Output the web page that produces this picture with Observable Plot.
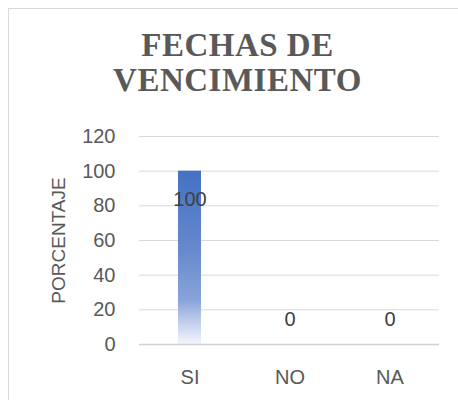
<!DOCTYPE html>
<html>
<head>
<meta charset="utf-8">
<script src="https://cdn.jsdelivr.net/npm/d3@7"></script>
<script src="https://cdn.jsdelivr.net/npm/@observablehq/plot@0.6"></script>
<style>
  html, body { margin: 0; padding: 0; background: #fff; }
  #wrap { position: relative; width: 458px; height: 400px; overflow: hidden; }
  #frame { position: absolute; left: 8px; top: 8px; width: 470px; height: 420px;
           border-left: 1px solid #d9d9d9; border-top: 1px solid #d9d9d9; }
  #title { position: absolute; left: 15px; top: 28px; width: 445px; text-align: center;
           font-family: "Liberation Serif", "Times New Roman", serif; font-weight: bold;
           font-size: 33px; line-height: 35px; letter-spacing: 0.5px; color: #595959; }
  #chart { position: absolute; left: 0; top: 115px; }
</style>
</head>
<body>
<div id="wrap">
  <div id="frame"></div>
  <div id="title">FECHAS DE<br>VENCIMIENTO</div>
  <div id="chart"></div>
</div>
<script>
const categories = ["SI", "NO", "NA"];
const values = [100, 0, 0];
const yTicks = [0, 20, 40, 60, 80, 100, 120];
const yLabel = "PORCENTAJE";
const titleText = "FECHAS DE VENCIMIENTO";

const data = categories.map((c, i) => ({cat: c, v: values[i]}));
const font = "'Liberation Sans', Arial, sans-serif";

const chart = Plot.plot({
  width: 458,
  height: 285,
  marginTop: 21,
  marginBottom: 56,
  marginLeft: 139,
  marginRight: 19,
  style: {fontFamily: font, fontSize: "20px", color: "#595959", background: "transparent"},
  x: {domain: categories, paddingInner: 0.77, paddingOuter: 0.385, label: null},
  y: {domain: [0, 120], ticks: yTicks, label: null},
  marks: [
    Plot.gridY(yTicks.filter(t => t > 0), {stroke: "#d9d9d9", strokeOpacity: 1, strokeWidth: 1}),
    Plot.barY(data, {x: "cat", y: "v", fill: "url(#barGrad)"}),
    Plot.ruleY([0], {stroke: "#d0d0d0", strokeWidth: 1.5}),
    Plot.axisY({ticks: yTicks, tickSize: 0, tickPadding: 24, fontSize: 20, fill: "#595959",
      label: yLabel, labelAnchor: "center", labelArrow: "none", labelOffset: 88}),
    Plot.axisX({tickSize: 0, tickPadding: 25, fontSize: 20, fill: "#595959", label: null}),
    Plot.text(data.filter(d => d.v > 0), {x: "cat", y: "v", text: d => String(d.v), dy: 28,
      fontSize: 20, fill: "#404040"}),
    Plot.text(data.filter(d => d.v <= 0), {x: "cat", y: "v", text: d => String(d.v), dy: -25,
      fontSize: 20, fill: "#404040"})
  ]
});

const svg = d3.select(chart);
const defs = svg.insert("defs", ":first-child");
const g = defs.append("linearGradient").attr("id", "barGrad")
  .attr("x1", 0).attr("y1", 0).attr("x2", 0).attr("y2", 1);
[[0, "#4472c4"], [0.45, "#6688cc"], [0.75, "#8aa4da"], [0.85, "#b7c7ea"], [1, "#f4f6fc"]]
  .forEach(([o, c]) => g.append("stop").attr("offset", o).attr("stop-color", c));
svg.selectAll("[aria-label='y-axis label'] text, [aria-label='y-axis label']")
  .attr("font-size", 19);

document.getElementById("chart").appendChild(chart);
</script>
</body>
</html>
